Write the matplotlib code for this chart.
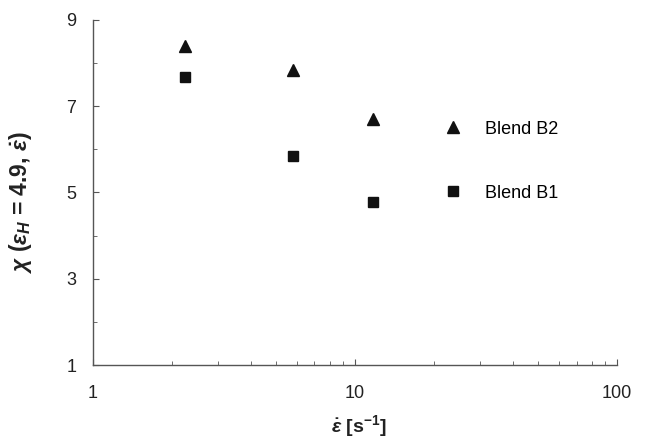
import matplotlib.pyplot as plt
from matplotlib.ticker import FixedLocator, LogLocator, NullFormatter

plt.rcParams['font.family'] = ['Liberation Sans', 'DejaVu Sans']
plt.rcParams['mathtext.fontset'] = 'custom'
plt.rcParams['mathtext.rm'] = 'Liberation Sans:bold'
plt.rcParams['mathtext.it'] = 'Liberation Sans:italic:bold'
plt.rcParams['mathtext.bf'] = 'Liberation Sans:bold'

# strain rate [1/s] and chi values for the two blends
strain_rate = [2.25, 5.8, 11.7]
chi_b2 = [8.40, 7.84, 6.70]
chi_b1 = [7.68, 5.84, 4.78]

fig = plt.figure(figsize=(6.49, 4.40), dpi=100)
ax = fig.add_axes([0.143, 0.170, 0.808, 0.785])

ax.plot(strain_rate, chi_b2, linestyle='none', marker='^', markersize=8.5,
        color='#111111', label='Blend B2')
ax.plot(strain_rate, chi_b1, linestyle='none', marker='s', markersize=7.5,
        color='#111111', label='Blend B1')

ax.set_xscale('log')
ax.set_xlim(1, 100)
ax.set_ylim(1, 9)
ax.yaxis.set_major_locator(FixedLocator([1, 3, 5, 7, 9]))
ax.yaxis.set_minor_locator(FixedLocator([2, 4, 6, 8]))
ax.xaxis.set_minor_locator(LogLocator(base=10, subs=range(2, 10)))
ax.xaxis.set_minor_formatter(NullFormatter())
ax.set_xticks([1, 10, 100])
ax.set_xticklabels(['1', '10', '100'])

for side in ['top', 'right']:
    ax.spines[side].set_visible(False)
for side in ['left', 'bottom']:
    ax.spines[side].set_color('#555555')
    ax.spines[side].set_linewidth(1.0)

ax.tick_params(which='both', direction='in', color='#555555', labelsize=13,
               labelcolor='#222222')
ax.tick_params(which='major', length=4)
ax.tick_params(which='minor', length=3)
ax.tick_params(axis='x', pad=14)
ax.tick_params(axis='y', pad=12)

ax.set_xlabel(r'$\dot{\varepsilon}$ [s$^{-1}$]', fontsize=14, fontweight='bold',
              color='#222222')
ax.xaxis.set_label_coords(0.508, -0.138)
ax.set_ylabel(r'$\chi\ (\varepsilon_H$ = 4.9, $\dot{\varepsilon})$', fontsize=16.5,
              fontweight='bold', color='#222222')
ax.yaxis.set_label_coords(-0.113, 0.472)

ax.legend(loc='center left', bbox_to_anchor=(0.655, 0.591), frameon=False,
          fontsize=13, labelspacing=2.6, handlelength=1.0, handletextpad=1.3,
          borderaxespad=0)

fig.savefig('out.png', dpi=100)
